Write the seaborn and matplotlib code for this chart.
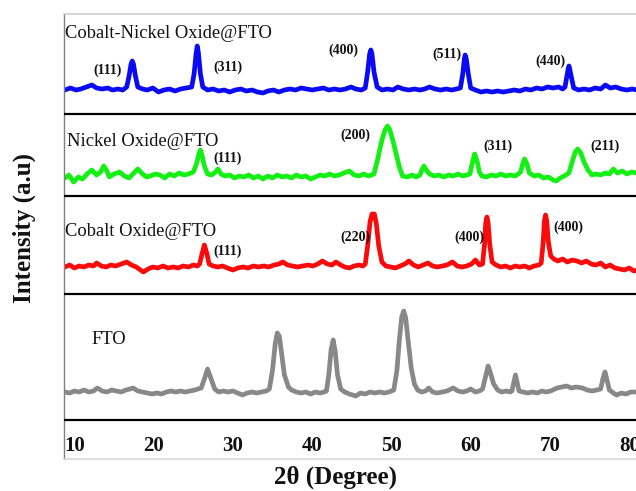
import matplotlib
matplotlib.use("Agg")
import matplotlib.pyplot as plt
import seaborn as sns
import pandas as pd

# ---------------- data (2θ in degrees, intensity in a.u.) ----------------
cn_x = [8.8, 9.5, 10.2, 10.8, 11.5, 12.2, 12.8, 13.5, 14.2, 14.8, 15.5, 16.1, 16.6, 16.9, 17.15, 17.3, 17.45, 17.7, 18.0,
        18.6, 19.2, 19.9, 20.6, 21.3, 22.0, 22.7, 23.4, 24.1, 24.8, 25.1, 25.35, 25.5, 25.65, 25.9, 26.2, 26.8, 27.5,
        28.2, 28.9, 29.6, 30.3, 31.0, 31.7, 32.4, 33.1, 33.8, 34.4, 35.1, 35.8, 36.5, 37.2, 37.9, 38.6, 39.3, 40.0,
        40.7, 41.4, 42.1, 42.8, 43.5, 44.2, 44.9, 45.5, 46.2, 46.7, 47.0, 47.25, 47.4, 47.55, 47.8, 48.2, 48.8, 49.5,
        50.2, 50.8, 51.5, 52.2, 52.9, 53.6, 54.2, 54.8, 55.5, 56.2, 56.9, 57.6, 58.2, 58.7, 59.0, 59.2, 59.3, 59.45,
        59.7, 60.0, 60.6, 61.3, 62.0, 62.7, 63.4, 64.1, 64.8, 65.5, 66.2, 66.9, 67.6, 68.3, 69.0, 69.7, 70.4, 71.1,
        71.6, 71.9, 72.15, 72.3, 72.4, 72.5, 72.7, 73.0, 73.6, 74.3, 75.0, 75.7, 76.4, 77.0, 77.6, 78.3, 79.0, 79.7,
        80.4, 81.0]
cn_y = [24, 26, 24, 25, 27, 29, 26, 25, 26, 24, 25, 24, 27, 38, 50, 53, 50, 38, 27,
        25, 24, 26, 22, 24, 25, 23, 25, 26, 27, 40, 60, 68, 61, 40, 27, 24, 25,
        23, 24, 22, 24, 25, 23, 24, 22, 21, 23, 24, 22, 24, 25, 24, 26, 25, 24,
        25, 26, 24, 25, 24, 25, 27, 25, 24, 26, 42, 60, 64, 60, 42, 27, 24, 25,
        24, 27, 25, 24, 25, 24, 25, 27, 25, 24, 25, 24, 25, 26, 40, 55, 59, 55,
        40, 26, 24, 22, 23, 22, 23, 22, 23, 24, 23, 25, 24, 26, 25, 27, 26, 27,
        25, 27, 38, 45, 48, 45, 37, 26, 24, 25, 24, 26, 25, 29, 26, 27, 25, 24,
        25, 24]

ni_x = [8.8, 9.3, 9.9, 10.5, 11.0, 11.6, 12.2, 12.8, 13.3, 13.7, 14.1, 14.4, 15.0, 15.7, 16.3, 16.9, 17.5, 18.0, 18.6,
        19.1, 19.6, 20.2, 20.8, 21.4, 22.0, 22.6, 23.2, 23.8, 24.4, 25.0, 25.4, 25.75, 25.9, 26.1, 26.4, 26.8, 27.3,
        27.8, 28.1, 28.5, 29.0, 29.6, 30.2, 30.8, 31.4, 32.0, 32.6, 33.2, 33.8, 34.4, 35.0, 35.6, 36.2, 36.8, 37.4,
        38.0, 38.6, 39.2, 39.8, 40.4, 41.0, 41.6, 42.2, 42.8, 43.4, 44.0, 44.7, 45.3, 45.9, 46.5, 47.1, 47.8, 48.3,
        48.8, 49.2, 49.5, 49.8, 50.2, 50.6, 51.0, 51.4, 52.0, 52.6, 53.1, 53.6, 53.9, 54.1, 54.4, 54.8, 55.4, 56.0,
        56.6, 57.2, 57.8, 58.4, 59.0, 59.5, 59.9, 60.2, 60.5, 60.8, 61.1, 61.4, 62.0, 62.6, 63.2, 63.8, 64.4, 65.0,
        65.6, 66.0, 66.3, 66.6, 66.8, 67.1, 67.4, 68.0, 68.6, 69.2, 69.8, 70.4, 70.8, 71.3, 71.8, 72.4, 72.8, 73.2,
        73.5, 73.9, 74.3, 74.8, 75.3, 75.8, 76.4, 77.0, 77.5, 78.0, 78.5, 79.1, 79.7, 80.3, 81.0]
ni_y = [18, 21, 14, 19, 17, 22, 26, 21, 24, 30, 25, 19, 22, 24, 20, 18, 23, 27, 22,
        19, 20, 22, 21, 18, 22, 20, 23, 21, 22, 24, 32, 43, 46, 41, 30, 22, 21,
        24, 27, 22, 20, 21, 18, 20, 19, 21, 18, 20, 17, 20, 18, 21, 19, 20, 18,
        21, 19, 20, 17, 19, 21, 20, 22, 20, 21, 23, 25, 21, 20, 22, 20, 22, 38,
        56, 66, 70, 66, 55, 42, 29, 20, 19, 21, 19, 21, 27, 30, 26, 22, 20, 21,
        19, 21, 20, 22, 20, 21, 22, 33, 42, 35, 24, 20, 19, 21, 20, 22, 20, 21,
        20, 22, 24, 33, 37, 32, 23, 20, 21, 18, 19, 16, 15, 18, 20, 23, 34, 44,
        47, 43, 34, 26, 21, 22, 21, 23, 22, 27, 23, 25, 22, 24, 23]

co_x = [8.8, 9.4, 10.0, 10.6, 11.2, 11.8, 12.4, 12.8, 13.4, 14.0, 14.6, 15.2, 15.9, 16.6, 17.2, 17.8, 18.7, 19.3, 19.9,
        20.5, 21.2, 21.8, 22.5, 23.1, 23.7, 24.4, 25.0, 25.5, 25.8, 26.1, 26.4, 26.7, 27.0, 27.5, 28.1, 28.7, 29.3,
        30.0, 30.6, 31.3, 31.9, 32.6, 33.2, 33.9, 34.5, 35.2, 35.8, 36.3, 36.9, 37.5, 38.2, 38.8, 39.5, 40.1, 40.7,
        41.3, 41.9, 42.5, 43.0, 43.6, 44.1, 44.7, 45.3, 45.9, 46.4, 46.7, 47.0, 47.3, 47.55, 47.85, 48.1, 48.4, 48.8,
        49.3, 49.9, 50.5, 51.1, 51.7, 52.2, 52.8, 53.4, 54.0, 54.6, 55.2, 55.8, 56.4, 57.0, 57.7, 58.3, 58.9, 59.5,
        60.1, 60.6, 61.1, 61.5, 61.75, 61.9, 62.05, 62.2, 62.4, 62.7, 63.2, 63.8, 64.4, 65.0, 65.6, 66.2, 66.8, 67.4,
        68.0, 68.6, 68.9, 69.15, 69.3, 69.45, 69.6, 69.8, 70.1, 70.5, 71.0, 71.6, 72.2, 72.8, 73.4, 74.0, 74.6, 75.2,
        75.8, 76.4, 77.0, 77.6, 78.2, 78.8, 79.4, 80.0, 80.6, 81.0]
co_y = [27, 29, 26, 28, 27, 29, 28, 31, 28, 27, 29, 28, 30, 32, 29, 27, 22, 25, 27,
        26, 28, 26, 27, 26, 28, 27, 29, 28, 30, 40, 49, 41, 30, 28, 27, 28, 26,
        24, 26, 27, 26, 28, 27, 28, 27, 29, 30, 32, 29, 28, 27, 28, 29, 28, 30,
        33, 30, 29, 32, 29, 27, 26, 28, 29, 28, 30, 48, 72, 80, 80, 70, 48, 32,
        28, 27, 26, 28, 30, 33, 29, 27, 29, 31, 28, 27, 28, 29, 32, 28, 27, 28,
        30, 34, 29, 30, 50, 71, 77, 71, 50, 32, 29, 27, 28, 26, 28, 27, 28, 26,
        28, 29, 31, 52, 73, 79, 73, 52, 38, 35, 33, 35, 32, 34, 33, 31, 33, 30,
        29, 31, 27, 29, 26, 25, 24, 26, 23, 24]

fto_x = [8.8, 9.4, 10.0, 10.6, 11.2, 11.8, 12.4, 12.9, 13.5, 14.1, 14.7, 15.3, 15.9, 16.5, 17.0, 17.4, 18.0, 18.6, 19.2,
         19.8, 20.4, 21.0, 21.6, 22.2, 22.8, 23.4, 24.0, 24.6, 25.2, 25.6, 26.0, 26.4, 26.8, 27.2, 27.7, 28.2, 28.8,
         29.4, 30.0, 30.6, 31.2, 31.8, 32.4, 33.0, 33.6, 34.2, 34.6, 35.0, 35.35, 35.6, 35.85, 36.1, 36.5, 37.0, 37.4,
         38.0, 38.6, 39.2, 39.8, 40.4, 41.0, 41.5, 41.8, 42.1, 42.4, 42.65, 42.9, 43.2, 43.6, 44.1, 44.7, 45.5, 46.1,
         46.7, 47.3, 47.9, 48.5, 49.1, 49.7, 50.3, 50.7, 51.0, 51.3, 51.55, 51.8, 52.1, 52.5, 52.9, 53.3, 53.8, 54.3,
         54.7, 55.2, 55.8, 56.4, 57.0, 57.8, 58.4, 59.0, 59.5, 60.0, 60.6, 61.1, 61.5, 61.9, 62.2, 62.5, 62.9, 63.4,
         63.9, 64.5, 65.0, 65.2, 65.45, 65.65, 65.85, 66.1, 66.6, 67.2, 67.8, 68.4, 69.0, 69.5, 70.1, 70.9, 71.5, 72.1,
         72.7, 73.3, 74.1, 74.7, 75.3, 75.9, 76.4, 76.7, 76.95, 77.2, 77.5, 78.0, 78.4, 79.0, 79.6, 80.2, 81.0]
fto_y = [28, 27, 29, 28, 30, 28, 29, 32, 29, 28, 30, 29, 28, 30, 31, 32, 29, 28, 27,
         26, 27, 26, 28, 29, 28, 29, 28, 29, 30, 31, 32, 41, 51, 42, 31, 28, 29,
         28, 29, 27, 25, 27, 28, 27, 28, 29, 31, 50, 77, 87, 84, 69, 45, 33, 30,
         28, 27, 28, 26, 28, 27, 28, 29, 45, 71, 80, 69, 45, 31, 28, 26, 24, 27,
         26, 28, 27, 28, 27, 28, 30, 50, 80, 103, 109, 102, 80, 52, 36, 30, 28, 29,
         32, 28, 27, 28, 29, 32, 29, 28, 29, 31, 28, 29, 31, 44, 54, 47, 36, 30,
         28, 29, 28, 29, 38, 45, 38, 29, 28, 27, 28, 27, 29, 28, 29, 32, 33, 34,
         32, 33, 32, 30, 29, 30, 31, 42, 48, 40, 30, 27, 25, 27, 26, 28, 28]

sample_names = ["Cobalt-Nickel Oxide@FTO", "Nickel Oxide@FTO", "Cobalt Oxide@FTO", "FTO"]
series_x = [cn_x, ni_x, co_x, fto_x]
series_y = [cn_y, ni_y, co_y, fto_y]
xtick_values = [10, 20, 30, 40, 50, 60, 70, 80]

# Miller index annotations: (text, 2θ position, panel index, height in panel)
hkl_labels = [
    ("(111)", 14.24, 0, 44), ("(311)", 29.38, 0, 47), ("(400)", 43.95, 0, 64),
    ("(511)", 56.95, 0, 60), ("(440)", 70.07, 0, 53),
    ("(111)", 29.38, 1, 38), ("(200)", 45.47, 1, 61), ("(311)", 63.41, 1, 50),
    ("(211)", 76.90, 1, 50),
    ("(111)", 29.38, 2, 43), ("(220)", 45.40, 2, 57), ("(400)", 59.79, 2, 57),
    ("(400)", 72.34, 2, 67),
]

# ---------------- style / layout ----------------
colors = ["#0A0AF5", "#14F014", "#FA0A0A", "#888888"]
panel_offsets = [345, 263, 165, 39]          # baseline (lower separator) of each panel
separators = [345, 263, 165, 39]
name_pos = [(8.81, 426 - 345), (9.07, 317 - 263), (8.81, 227 - 165), (12.2, 120 - 39)]

sns.set_theme(style="white")
plt.rcParams["font.family"] = ["Liberation Serif", "DejaVu Serif"]

fig = plt.figure(figsize=(6.36, 4.91), dpi=100)
ax = fig.add_axes([64 / 636, 32 / 491, (641 - 64) / 636, 445 / 491])

for i in range(4):
    df = pd.DataFrame({"x": series_x[i], "y": [v + panel_offsets[i] for v in series_y[i]]})
    sns.lineplot(data=df, x="x", y="y", ax=ax, color=colors[i], lw=3.4,
                 estimator=None, sort=False, legend=False)

for s in separators:
    ax.axhline(s, color="black", lw=1.6, zorder=3)

for i, (nx, ny) in enumerate(name_pos):
    ax.text(nx, ny + panel_offsets[i], sample_names[i], ha="left", va="center",
            fontsize=13.3, color="#111111")

for txt, xx, p, h in hkl_labels:
    ax.text(xx, h + panel_offsets[p], txt, ha="center", va="center",
            fontsize=10, fontweight="bold", color="#111111")

ax.set_xlim(8.688, 81.49)
ax.set_ylim(0, 445)
ax.set_yticks([])
ax.set_xticks(xtick_values)
ax.set_xticklabels([str(v) for v in xtick_values], fontsize=15, fontweight="bold")
ax.tick_params(axis="x", length=0, pad=-16.5, colors="#111111")

ax.spines["left"].set_color("#808080")
ax.spines["left"].set_linewidth(1.0)
ax.spines["top"].set_color("#d0d0d0")
ax.spines["bottom"].set_color("#d8d8d8")
ax.spines["right"].set_visible(False)

ax.set_xlabel("2θ (Degree)", fontsize=18, fontweight="bold", color="#111111")
ax.set_ylabel("Intensity (a.u)", fontsize=18, fontweight="bold", color="#111111")
ax.xaxis.set_label_coords((336 - 64) / 577, -0.014)
ax.yaxis.set_label_coords(-0.0485, 0.519)

fig.savefig("out.png", dpi=100)
